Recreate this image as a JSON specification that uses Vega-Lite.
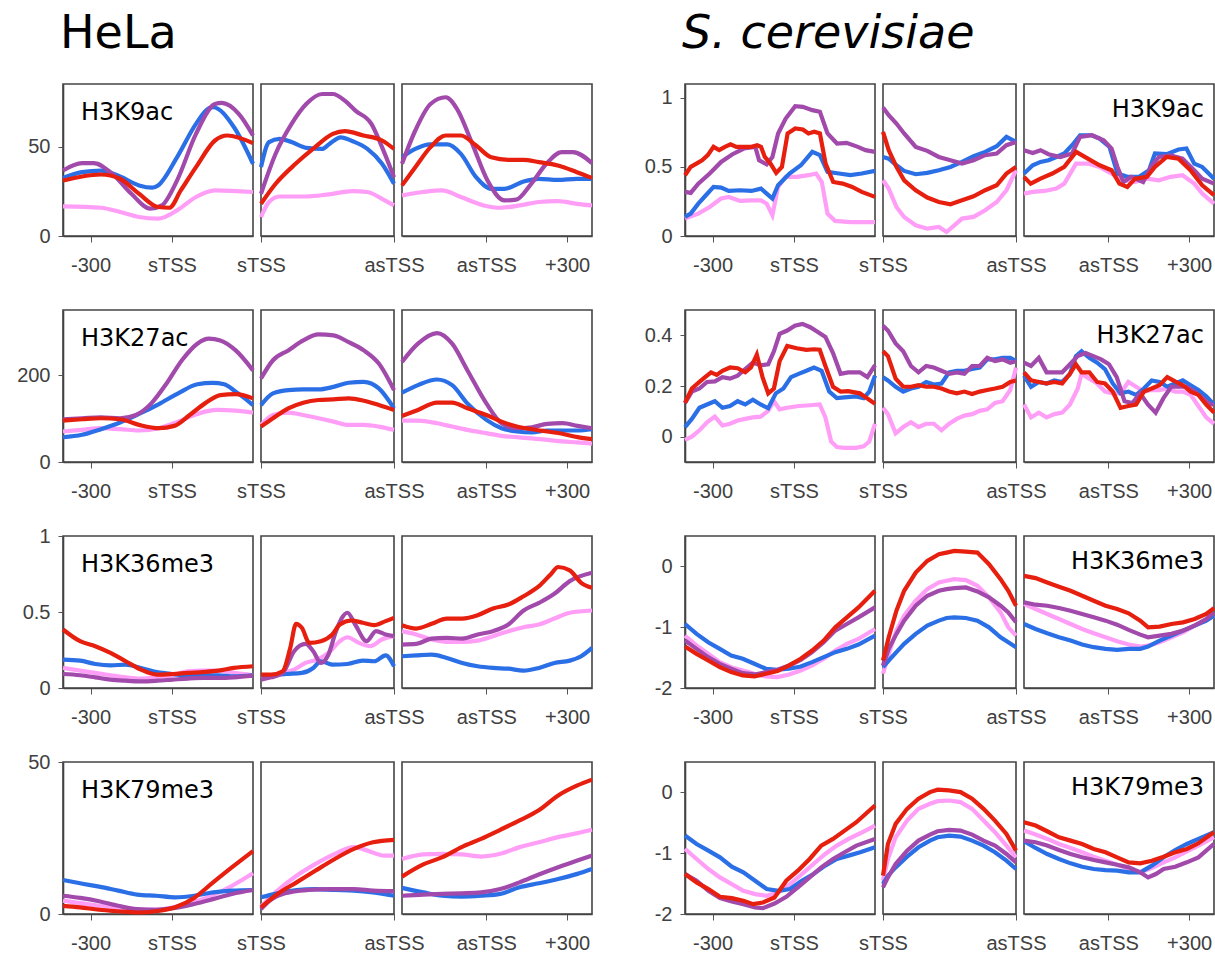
{
"$schema":"https://vega.github.io/schema/vega-lite/v6.json",
"background":"white",
"padding":{"left":15,"top":10,"right":2,"bottom":2},
"config":{
 "view":{"stroke":"#444","strokeWidth":1.6},
 "axis":{"grid":false,"labelFont":"Liberation Sans","labelFontSize":20,"labelColor":"#404040","tickColor":"#555","domainColor":"#444","domainWidth":1.6,"labelFlush":false,"labelOverlap":false,"labelBound":false},
 "axisX":{"tickSize":6,"labelPadding":13},
 "axisY":{"tickSize":5,"labelPadding":8,"labelExpr":"'' + datum.value"},
 "line":{"strokeWidth":4.2,"clip":true},
 "text":{"font":"DejaVu Sans","fontSize":24,"color":"black"},
 "title":{"anchor":"start","frame":"group","dx":-3,"font":"DejaVu Sans","fontSize":46,"fontWeight":"normal","color":"black","offset":26}
},
"datasets":{
"h1L":[
{"s":"k","x":0,"y":16.6},{"s":"k","x":20,"y":15.8},{"s":"k","x":30,"y":13.4},{"s":"k","x":40,"y":10.6},{"s":"k","x":50,"y":9.7},{"s":"k","x":60,"y":14.3},{"s":"k","x":70,"y":21.8},{"s":"k","x":80,"y":25.5},{"s":"k","x":100,"y":24.6},
{"s":"b","x":0,"y":32.5},{"s":"b","x":10,"y":35.7},{"s":"b","x":20,"y":36.6},{"s":"b","x":30,"y":33.3},{"s":"b","x":40,"y":28.3},{"s":"b","x":47,"y":27},{"s":"b","x":50,"y":28.3},{"s":"b","x":60,"y":44},{"s":"b","x":70,"y":62.7},{"s":"b","x":77,"y":71.6},{"s":"b","x":79,"y":72},{"s":"b","x":90,"y":60.8},{"s":"b","x":100,"y":40.4},
{"s":"p","x":0,"y":36.6},{"s":"p","x":10,"y":40.7},{"s":"p","x":16,"y":40.7},{"s":"p","x":26,"y":34.8},{"s":"p","x":36,"y":23.6},{"s":"p","x":46,"y":15.3},{"s":"p","x":52,"y":17.1},{"s":"p","x":60,"y":31},{"s":"p","x":70,"y":57.1},{"s":"p","x":80,"y":73.8},{"s":"p","x":83.5,"y":74.4},{"s":"p","x":92.5,"y":68.3},{"s":"p","x":100,"y":56.2},
{"s":"r","x":0,"y":31},{"s":"r","x":10,"y":33.3},{"s":"r","x":20,"y":34.4},{"s":"r","x":30,"y":32},{"s":"r","x":40,"y":23.6},{"s":"r","x":50,"y":16.2},{"s":"r","x":56,"y":15.8},{"s":"r","x":62,"y":25.5},{"s":"r","x":70,"y":38.5},{"s":"r","x":80,"y":53.4},{"s":"r","x":86.5,"y":56.2},{"s":"r","x":100,"y":51.9}],
"h1M":[
{"s":"k","x":0,"y":10.6},{"s":"k","x":6,"y":19},{"s":"k","x":14,"y":22.1},{"s":"k","x":34,"y":22.1},{"s":"k","x":51,"y":23.3},{"s":"k","x":69,"y":25.1},{"s":"k","x":80,"y":24.6},{"s":"k","x":91,"y":20.8},{"s":"k","x":100,"y":17.1},
{"s":"b","x":0,"y":38.5},{"s":"b","x":6,"y":52.5},{"s":"b","x":14,"y":54.3},{"s":"b","x":23,"y":52.5},{"s":"b","x":34,"y":49.3},{"s":"b","x":46,"y":48.7},{"s":"b","x":51,"y":51.2},{"s":"b","x":60,"y":55.2},{"s":"b","x":69,"y":53},{"s":"b","x":80,"y":48.7},{"s":"b","x":91,"y":40.4},{"s":"b","x":100,"y":29.2},
{"s":"p","x":0,"y":23.6},{"s":"p","x":11,"y":46},{"s":"p","x":23,"y":62.7},{"s":"p","x":34,"y":73.8},{"s":"p","x":46,"y":79.4},{"s":"p","x":54,"y":79.4},{"s":"p","x":63,"y":75.7},{"s":"p","x":71,"y":70.1},{"s":"p","x":83,"y":62.7},{"s":"p","x":91,"y":49.7},{"s":"p","x":100,"y":32.9},
{"s":"r","x":0,"y":18},{"s":"r","x":11,"y":29.2},{"s":"r","x":26,"y":40.4},{"s":"r","x":40,"y":49.3},{"s":"r","x":54,"y":57.1},{"s":"r","x":63,"y":58.6},{"s":"r","x":77,"y":56.2},{"s":"r","x":91,"y":53.4},{"s":"r","x":100,"y":48.7}],
"h1R":[
{"s":"k","x":0,"y":22.7},{"s":"k","x":11,"y":24.6},{"s":"k","x":21,"y":25.5},{"s":"k","x":31,"y":21.8},{"s":"k","x":43,"y":17.1},{"s":"k","x":52,"y":15.8},{"s":"k","x":62,"y":17.1},{"s":"k","x":72,"y":19},{"s":"k","x":82,"y":19.5},{"s":"k","x":92,"y":18},{"s":"k","x":100,"y":17.1},
{"s":"b","x":0,"y":44},{"s":"b","x":7,"y":48.7},{"s":"b","x":15,"y":51.2},{"s":"b","x":24,"y":51.2},{"s":"b","x":31,"y":45.9},{"s":"b","x":39,"y":32.9},{"s":"b","x":47,"y":26.4},{"s":"b","x":54,"y":26.4},{"s":"b","x":64,"y":30.5},{"s":"b","x":72,"y":32},{"s":"b","x":82,"y":31.4},{"s":"b","x":92,"y":32},{"s":"b","x":100,"y":32},
{"s":"p","x":0,"y":40.4},{"s":"p","x":7,"y":59},{"s":"p","x":15,"y":73.8},{"s":"p","x":23,"y":77.6},{"s":"p","x":29,"y":71},{"s":"p","x":37,"y":51.5},{"s":"p","x":45,"y":31},{"s":"p","x":54,"y":19.9},{"s":"p","x":60,"y":20.3},{"s":"p","x":68,"y":29.2},{"s":"p","x":76,"y":40.4},{"s":"p","x":84,"y":46.9},{"s":"p","x":90,"y":46.9},{"s":"p","x":100,"y":40.7},
{"s":"r","x":0,"y":28.3},{"s":"r","x":7,"y":38.5},{"s":"r","x":15,"y":49.7},{"s":"r","x":23,"y":56.2},{"s":"r","x":31,"y":56.2},{"s":"r","x":39,"y":50.6},{"s":"r","x":47,"y":44},{"s":"r","x":56,"y":42.6},{"s":"r","x":64,"y":42.6},{"s":"r","x":72,"y":41.3},{"s":"r","x":82,"y":39.4},{"s":"r","x":92,"y":35.7},{"s":"r","x":100,"y":32.5}],
"h2L":[
{"s":"k","x":0,"y":70.2},{"s":"k","x":10,"y":74},{"s":"k","x":20,"y":77.8},{"s":"k","x":30,"y":75.5},{"s":"k","x":40,"y":72.5},{"s":"k","x":50.5,"y":77.8},{"s":"k","x":60.6,"y":93},{"s":"k","x":70.7,"y":110.6},{"s":"k","x":80.8,"y":119.8},{"s":"k","x":90.9,"y":118.3},{"s":"k","x":100,"y":113.7},
{"s":"b","x":0,"y":57},{"s":"b","x":10,"y":62.6},{"s":"b","x":20,"y":75.5},{"s":"b","x":30,"y":90.8},{"s":"b","x":40,"y":110.6},{"s":"b","x":50.5,"y":133.5},{"s":"b","x":60.6,"y":158},{"s":"b","x":70.7,"y":179},{"s":"b","x":78.8,"y":182},{"s":"b","x":84.8,"y":179},{"s":"b","x":90.9,"y":162},{"s":"b","x":100,"y":131},
{"s":"p","x":0,"y":98.4},{"s":"p","x":10,"y":100.7},{"s":"p","x":20,"y":103},{"s":"p","x":30,"y":100.7},{"s":"p","x":38.4,"y":108.3},{"s":"p","x":46.5,"y":135},{"s":"p","x":54.5,"y":180.8},{"s":"p","x":62.6,"y":234.3},{"s":"p","x":70.7,"y":272.4},{"s":"p","x":76.8,"y":284},{"s":"p","x":82.8,"y":280},{"s":"p","x":90.9,"y":257},{"s":"p","x":100,"y":211},
{"s":"r","x":0,"y":95.4},{"s":"r","x":10,"y":98.4},{"s":"r","x":20,"y":100.7},{"s":"r","x":30,"y":98.4},{"s":"r","x":40,"y":85.5},{"s":"r","x":50.5,"y":77.8},{"s":"r","x":58.6,"y":83.2},{"s":"r","x":66.7,"y":108.3},{"s":"r","x":74.7,"y":135},{"s":"r","x":82.8,"y":154},{"s":"r","x":90.9,"y":156.4},{"s":"r","x":100,"y":146.5}],
"h2M":[
{"s":"k","x":0,"y":85.5},{"s":"k","x":9,"y":108.3},{"s":"k","x":20.5,"y":113.7},{"s":"k","x":31.8,"y":108.3},{"s":"k","x":43.2,"y":100.7},{"s":"k","x":54.5,"y":93},{"s":"k","x":65.9,"y":85.5},{"s":"k","x":77.3,"y":85.5},{"s":"k","x":88.6,"y":81.6},{"s":"k","x":100,"y":74},
{"s":"b","x":0,"y":131},{"s":"b","x":9,"y":158},{"s":"b","x":20.5,"y":165.6},{"s":"b","x":31.8,"y":167},{"s":"b","x":43.2,"y":167},{"s":"b","x":54.5,"y":173},{"s":"b","x":65.9,"y":182.4},{"s":"b","x":77.3,"y":184.7},{"s":"b","x":88.6,"y":169.5},{"s":"b","x":100,"y":123.6},
{"s":"p","x":0,"y":192.3},{"s":"p","x":9,"y":234.3},{"s":"p","x":20.5,"y":257},{"s":"p","x":31.8,"y":280},{"s":"p","x":43.2,"y":293.7},{"s":"p","x":54.5,"y":291.4},{"s":"p","x":65.9,"y":276},{"s":"p","x":77.3,"y":257},{"s":"p","x":88.6,"y":226.6},{"s":"p","x":100,"y":165.6},
{"s":"r","x":0,"y":81.6},{"s":"r","x":9,"y":100.7},{"s":"r","x":20.5,"y":123.6},{"s":"r","x":31.8,"y":136.6},{"s":"r","x":43.2,"y":142.7},{"s":"r","x":54.5,"y":144.2},{"s":"r","x":65.9,"y":146.5},{"s":"r","x":77.3,"y":141.2},{"s":"r","x":88.6,"y":131.2},{"s":"r","x":100,"y":119.8}],
"h2R":[
{"s":"k","x":0,"y":95.4},{"s":"k","x":8.4,"y":95.4},{"s":"k","x":18.4,"y":89.3},{"s":"k","x":26.4,"y":81.6},{"s":"k","x":34.4,"y":74},{"s":"k","x":44.4,"y":66.4},{"s":"k","x":52.4,"y":60.3},{"s":"k","x":60.4,"y":57.2},{"s":"k","x":68.4,"y":54.2},{"s":"k","x":76.4,"y":51.1},{"s":"k","x":84.4,"y":47.3},{"s":"k","x":92.4,"y":45},{"s":"k","x":100,"y":42},
{"s":"b","x":0,"y":159.5},{"s":"b","x":8.4,"y":177},{"s":"b","x":18.4,"y":190},{"s":"b","x":26.4,"y":177},{"s":"b","x":34.4,"y":135},{"s":"b","x":44.4,"y":97},{"s":"b","x":52.4,"y":77.8},{"s":"b","x":60.4,"y":70.2},{"s":"b","x":68.4,"y":68},{"s":"b","x":76.4,"y":72.5},{"s":"b","x":84.4,"y":72.5},{"s":"b","x":92.4,"y":72.5},{"s":"b","x":100,"y":75.5},
{"s":"p","x":0,"y":230.4},{"s":"p","x":8.4,"y":272.4},{"s":"p","x":18.4,"y":296.8},{"s":"p","x":26.4,"y":272.4},{"s":"p","x":34.4,"y":211.3},{"s":"p","x":44.4,"y":135},{"s":"p","x":52.4,"y":89.3},{"s":"p","x":60.4,"y":77.8},{"s":"p","x":68.4,"y":80.1},{"s":"p","x":76.4,"y":87.7},{"s":"p","x":84.4,"y":89.3},{"s":"p","x":92.4,"y":83.2},{"s":"p","x":100,"y":77.8},
{"s":"r","x":0,"y":106},{"s":"r","x":8.4,"y":119.8},{"s":"r","x":18.4,"y":136.6},{"s":"r","x":26.4,"y":136.6},{"s":"r","x":34.4,"y":123.6},{"s":"r","x":44.4,"y":108.3},{"s":"r","x":52.4,"y":93},{"s":"r","x":60.4,"y":81.6},{"s":"r","x":68.4,"y":75.5},{"s":"r","x":76.4,"y":70.2},{"s":"r","x":84.4,"y":65},{"s":"r","x":92.4,"y":57.2},{"s":"r","x":100,"y":52.7}],
"h3L":[
{"s":"k","x":0,"y":0.132},{"s":"k","x":9,"y":0.114},{"s":"k","x":17,"y":0.099},{"s":"k","x":25,"y":0.084},{"s":"k","x":33,"y":0.07},{"s":"k","x":41,"y":0.062},{"s":"k","x":49.5,"y":0.07},{"s":"k","x":57.6,"y":0.084},{"s":"k","x":65.7,"y":0.11},{"s":"k","x":73.7,"y":0.114},{"s":"k","x":81.8,"y":0.114},{"s":"k","x":89.9,"y":0.099},{"s":"k","x":100,"y":0.084},
{"s":"b","x":0,"y":0.187},{"s":"b","x":9,"y":0.18},{"s":"b","x":17,"y":0.158},{"s":"b","x":25,"y":0.149},{"s":"b","x":33,"y":0.154},{"s":"b","x":41,"y":0.132},{"s":"b","x":49.5,"y":0.105},{"s":"b","x":57.6,"y":0.092},{"s":"b","x":65.7,"y":0.084},{"s":"b","x":73.7,"y":0.084},{"s":"b","x":81.8,"y":0.084},{"s":"b","x":89.9,"y":0.077},{"s":"b","x":100,"y":0.084},
{"s":"p","x":0,"y":0.092},{"s":"p","x":9,"y":0.084},{"s":"p","x":17,"y":0.07},{"s":"p","x":25,"y":0.055},{"s":"p","x":33,"y":0.048},{"s":"p","x":41,"y":0.044},{"s":"p","x":49.5,"y":0.048},{"s":"p","x":57.6,"y":0.055},{"s":"p","x":65.7,"y":0.062},{"s":"p","x":73.7,"y":0.066},{"s":"p","x":81.8,"y":0.066},{"s":"p","x":89.9,"y":0.07},{"s":"p","x":100,"y":0.081},
{"s":"r","x":0,"y":0.385},{"s":"r","x":9,"y":0.308},{"s":"r","x":17,"y":0.275},{"s":"r","x":25,"y":0.231},{"s":"r","x":33,"y":0.176},{"s":"r","x":41,"y":0.121},{"s":"r","x":49.5,"y":0.088},{"s":"r","x":57.6,"y":0.092},{"s":"r","x":65.7,"y":0.099},{"s":"r","x":73.7,"y":0.105},{"s":"r","x":81.8,"y":0.114},{"s":"r","x":89.9,"y":0.132},{"s":"r","x":100,"y":0.143}],
"h3M":[
{"s":"k","x":0,"y":0.066},{"s":"k","x":7.7,"y":0.077},{"s":"k","x":16.3,"y":0.099},{"s":"k","x":24.9,"y":0.121},{"s":"k","x":33.5,"y":0.165},{"s":"k","x":42.1,"y":0.187},{"s":"k","x":50.7,"y":0.231},{"s":"k","x":59.3,"y":0.308},{"s":"k","x":65,"y":0.334},{"s":"k","x":73.6,"y":0.297},{"s":"k","x":82.2,"y":0.275},{"s":"k","x":90.8,"y":0.319},{"s":"k","x":100,"y":0.341},
{"s":"b","x":0,"y":0.084},{"s":"b","x":7.7,"y":0.084},{"s":"b","x":19.2,"y":0.092},{"s":"b","x":30.7,"y":0.099},{"s":"b","x":39.3,"y":0.132},{"s":"b","x":45,"y":0.176},{"s":"b","x":53.6,"y":0.154},{"s":"b","x":65,"y":0.158},{"s":"b","x":76.5,"y":0.18},{"s":"b","x":85.1,"y":0.176},{"s":"b","x":93.7,"y":0.215},{"s":"b","x":100,"y":0.143},
{"s":"p","x":0,"y":0.055},{"s":"p","x":7.7,"y":0.07},{"s":"p","x":16.3,"y":0.099},{"s":"p","x":24.9,"y":0.242},{"s":"p","x":33.5,"y":0.29},{"s":"p","x":39.3,"y":0.242},{"s":"p","x":45,"y":0.165},{"s":"p","x":50.7,"y":0.22},{"s":"p","x":56.4,"y":0.374},{"s":"p","x":65,"y":0.495},{"s":"p","x":70.8,"y":0.418},{"s":"p","x":79.4,"y":0.308},{"s":"p","x":86.5,"y":0.374},{"s":"p","x":93.7,"y":0.352},{"s":"p","x":100,"y":0.341},
{"s":"r","x":0,"y":0.088},{"s":"r","x":7.7,"y":0.088},{"s":"r","x":16.3,"y":0.11},{"s":"r","x":22,"y":0.264},{"s":"r","x":26.4,"y":0.422},{"s":"r","x":30.7,"y":0.396},{"s":"r","x":36.4,"y":0.297},{"s":"r","x":45,"y":0.308},{"s":"r","x":53.6,"y":0.352},{"s":"r","x":59.3,"y":0.418},{"s":"r","x":67.9,"y":0.444},{"s":"r","x":76.5,"y":0.429},{"s":"r","x":85.1,"y":0.413},{"s":"r","x":93.7,"y":0.44},{"s":"r","x":100,"y":0.462}],
"h3R":[
{"s":"k","x":0,"y":0.374},{"s":"k","x":7.5,"y":0.352},{"s":"k","x":15.6,"y":0.319},{"s":"k","x":23.6,"y":0.303},{"s":"k","x":31.7,"y":0.303},{"s":"k","x":39.8,"y":0.312},{"s":"k","x":47.9,"y":0.341},{"s":"k","x":56,"y":0.374},{"s":"k","x":64,"y":0.4},{"s":"k","x":72.1,"y":0.418},{"s":"k","x":80.2,"y":0.457},{"s":"k","x":88.3,"y":0.495},{"s":"k","x":100,"y":0.51},
{"s":"b","x":0,"y":0.209},{"s":"b","x":7.5,"y":0.215},{"s":"b","x":15.6,"y":0.22},{"s":"b","x":23.6,"y":0.198},{"s":"b","x":31.7,"y":0.165},{"s":"b","x":39.8,"y":0.143},{"s":"b","x":47.9,"y":0.132},{"s":"b","x":56,"y":0.127},{"s":"b","x":64,"y":0.114},{"s":"b","x":72.1,"y":0.132},{"s":"b","x":80.2,"y":0.165},{"s":"b","x":88.3,"y":0.18},{"s":"b","x":94.3,"y":0.209},{"s":"b","x":100,"y":0.264},
{"s":"p","x":0,"y":0.286},{"s":"p","x":7.5,"y":0.29},{"s":"p","x":15.6,"y":0.325},{"s":"p","x":23.6,"y":0.33},{"s":"p","x":31.7,"y":0.325},{"s":"p","x":39.8,"y":0.352},{"s":"p","x":47.9,"y":0.374},{"s":"p","x":56,"y":0.418},{"s":"p","x":64,"y":0.51},{"s":"p","x":72.1,"y":0.56},{"s":"p","x":80.2,"y":0.62},{"s":"p","x":88.3,"y":0.703},{"s":"p","x":100,"y":0.758},
{"s":"r","x":0,"y":0.413},{"s":"r","x":7.5,"y":0.391},{"s":"r","x":15.6,"y":0.422},{"s":"r","x":23.6,"y":0.457},{"s":"r","x":31.7,"y":0.457},{"s":"r","x":39.8,"y":0.479},{"s":"r","x":47.9,"y":0.523},{"s":"r","x":56,"y":0.549},{"s":"r","x":64,"y":0.604},{"s":"r","x":72.1,"y":0.67},{"s":"r","x":78.2,"y":0.747},{"s":"r","x":82.2,"y":0.796},{"s":"r","x":88.3,"y":0.774},{"s":"r","x":94.3,"y":0.692},{"s":"r","x":100,"y":0.659}],
"h4L":[
{"s":"k","x":0,"y":4.4},{"s":"k","x":19,"y":2.7},{"s":"k","x":39,"y":1.4},{"s":"k","x":53,"y":1.6},{"s":"k","x":65,"y":3.3},{"s":"k","x":77,"y":5.7},{"s":"k","x":89,"y":9.3},{"s":"k","x":100,"y":13.4},
{"s":"b","x":0,"y":11.2},{"s":"b","x":9,"y":10.1},{"s":"b","x":19,"y":9},{"s":"b","x":29,"y":7.7},{"s":"b","x":39,"y":6.4},{"s":"b","x":49,"y":6},{"s":"b","x":59,"y":5.5},{"s":"b","x":69,"y":6},{"s":"b","x":79,"y":7.1},{"s":"b","x":89,"y":7.7},{"s":"b","x":100,"y":7.9},
{"s":"p","x":0,"y":6},{"s":"p","x":9,"y":5.3},{"s":"p","x":19,"y":4.2},{"s":"p","x":29,"y":2.7},{"s":"p","x":39,"y":1.6},{"s":"p","x":49,"y":1.4},{"s":"p","x":59,"y":2},{"s":"p","x":69,"y":3.3},{"s":"p","x":79,"y":4.9},{"s":"p","x":89,"y":6.6},{"s":"p","x":100,"y":7.9},
{"s":"r","x":0,"y":2.7},{"s":"r","x":9,"y":2.2},{"s":"r","x":19,"y":1.4},{"s":"r","x":29,"y":0.9},{"s":"r","x":39,"y":0.5},{"s":"r","x":49,"y":0.9},{"s":"r","x":59,"y":2.2},{"s":"r","x":69,"y":5.3},{"s":"r","x":79,"y":10.4},{"s":"r","x":89,"y":15.4},{"s":"r","x":100,"y":20.7}],
"h4M":[
{"s":"k","x":0,"y":2.4},{"s":"k","x":12.4,"y":7.7},{"s":"k","x":26.7,"y":12.6},{"s":"k","x":41.1,"y":16.5},{"s":"k","x":55.5,"y":19.8},{"s":"k","x":69.8,"y":22},{"s":"k","x":78.4,"y":21.1},{"s":"k","x":92.8,"y":19.2},{"s":"k","x":100,"y":19.2},
{"s":"b","x":0,"y":5.5},{"s":"b","x":12.4,"y":6.8},{"s":"b","x":26.7,"y":7.9},{"s":"b","x":41.1,"y":8.2},{"s":"b","x":55.5,"y":7.9},{"s":"b","x":69.8,"y":7.7},{"s":"b","x":84.2,"y":7.1},{"s":"b","x":100,"y":6},
{"s":"p","x":0,"y":1.6},{"s":"p","x":6.6,"y":4.4},{"s":"p","x":18.1,"y":6.8},{"s":"p","x":35.3,"y":7.9},{"s":"p","x":52.6,"y":8.2},{"s":"p","x":69.8,"y":8.2},{"s":"p","x":84.2,"y":7.7},{"s":"p","x":100,"y":7.5},
{"s":"r","x":0,"y":2.2},{"s":"r","x":12.4,"y":6.6},{"s":"r","x":26.7,"y":10.4},{"s":"r","x":41.1,"y":14.3},{"s":"r","x":55.5,"y":18.1},{"s":"r","x":69.8,"y":21.4},{"s":"r","x":84.2,"y":23.6},{"s":"r","x":100,"y":24.4}],
"h4R":[
{"s":"k","x":0,"y":18.1},{"s":"k","x":11.2,"y":19.6},{"s":"k","x":21.3,"y":19.8},{"s":"k","x":31.4,"y":19.6},{"s":"k","x":41.6,"y":18.9},{"s":"k","x":51.7,"y":19.8},{"s":"k","x":61.9,"y":22},{"s":"k","x":72,"y":23.6},{"s":"k","x":82.2,"y":25.3},{"s":"k","x":92.3,"y":26.6},{"s":"k","x":100,"y":27.7},
{"s":"b","x":0,"y":8.6},{"s":"b","x":11.2,"y":7.1},{"s":"b","x":21.3,"y":6},{"s":"b","x":31.4,"y":5.7},{"s":"b","x":41.6,"y":6},{"s":"b","x":51.7,"y":6.6},{"s":"b","x":61.9,"y":8.8},{"s":"b","x":72,"y":10.1},{"s":"b","x":82.2,"y":11.5},{"s":"b","x":92.3,"y":13.2},{"s":"b","x":100,"y":14.8},
{"s":"p","x":0,"y":6},{"s":"p","x":11.2,"y":6.4},{"s":"p","x":21.3,"y":6.6},{"s":"p","x":31.4,"y":6.8},{"s":"p","x":41.6,"y":7.1},{"s":"p","x":51.7,"y":8.2},{"s":"p","x":61.9,"y":10.4},{"s":"p","x":72,"y":13},{"s":"p","x":82.2,"y":15.4},{"s":"p","x":92.3,"y":17.6},{"s":"p","x":100,"y":19.2},
{"s":"r","x":0,"y":12.3},{"s":"r","x":11.2,"y":16.3},{"s":"r","x":21.3,"y":18.7},{"s":"r","x":31.4,"y":22},{"s":"r","x":41.6,"y":24.7},{"s":"r","x":51.7,"y":27.7},{"s":"r","x":61.9,"y":30.8},{"s":"r","x":72,"y":34.1},{"s":"r","x":82.2,"y":39},{"s":"r","x":92.3,"y":42.3},{"s":"r","x":100,"y":44.2}],
"y1L":[
{"s":"k","x":0,"y":0.126},{"s":"k","x":7,"y":0.162},{"s":"k","x":13,"y":0.21},{"s":"k","x":19,"y":0.271},{"s":"k","x":23,"y":0.283},{"s":"k","x":29,"y":0.254},{"s":"k","x":35,"y":0.258},{"s":"k","x":40,"y":0.258},{"s":"k","x":43,"y":0.234},{"s":"k","x":46,"y":0.15},{"s":"k","x":49,"y":0.355},{"s":"k","x":53,"y":0.428},{"s":"k","x":59,"y":0.428},{"s":"k","x":65,"y":0.44},{"s":"k","x":69,"y":0.452},{"s":"k","x":72,"y":0.391},{"s":"k","x":75,"y":0.162},{"s":"k","x":79,"y":0.109},{"s":"k","x":87,"y":0.101},{"s":"k","x":100,"y":0.101},
{"s":"b","x":0,"y":0.138},{"s":"b","x":3,"y":0.162},{"s":"b","x":7,"y":0.234},{"s":"b","x":11,"y":0.295},{"s":"b","x":15,"y":0.355},{"s":"b","x":19,"y":0.35},{"s":"b","x":23,"y":0.326},{"s":"b","x":29,"y":0.331},{"s":"b","x":35,"y":0.326},{"s":"b","x":40,"y":0.343},{"s":"b","x":43,"y":0.307},{"s":"b","x":46,"y":0.271},{"s":"b","x":49,"y":0.367},{"s":"b","x":55,"y":0.452},{"s":"b","x":61,"y":0.512},{"s":"b","x":67,"y":0.609},{"s":"b","x":71,"y":0.585},{"s":"b","x":75,"y":0.464},{"s":"b","x":81,"y":0.452},{"s":"b","x":87,"y":0.44},{"s":"b","x":93,"y":0.452},{"s":"b","x":100,"y":0.471},
{"s":"p","x":0,"y":0.319},{"s":"p","x":3,"y":0.312},{"s":"p","x":7,"y":0.379},{"s":"p","x":13,"y":0.452},{"s":"p","x":19,"y":0.536},{"s":"p","x":25,"y":0.592},{"s":"p","x":31,"y":0.633},{"s":"p","x":37,"y":0.645},{"s":"p","x":39,"y":0.548},{"s":"p","x":43,"y":0.519},{"s":"p","x":46,"y":0.572},{"s":"p","x":49,"y":0.742},{"s":"p","x":53,"y":0.85},{"s":"p","x":58,"y":0.94},{"s":"p","x":62,"y":0.935},{"s":"p","x":67,"y":0.911},{"s":"p","x":71,"y":0.899},{"s":"p","x":75,"y":0.742},{"s":"p","x":80,"y":0.669},{"s":"p","x":85,"y":0.674},{"s":"p","x":91,"y":0.645},{"s":"p","x":95,"y":0.621},{"s":"p","x":100,"y":0.609},
{"s":"r","x":0,"y":0.44},{"s":"r","x":3,"y":0.5},{"s":"r","x":6,"y":0.524},{"s":"r","x":9,"y":0.548},{"s":"r","x":12,"y":0.585},{"s":"r","x":15,"y":0.645},{"s":"r","x":18,"y":0.621},{"s":"r","x":21,"y":0.645},{"s":"r","x":24,"y":0.664},{"s":"r","x":27,"y":0.645},{"s":"r","x":31,"y":0.645},{"s":"r","x":35,"y":0.645},{"s":"r","x":38,"y":0.657},{"s":"r","x":40,"y":0.645},{"s":"r","x":42,"y":0.572},{"s":"r","x":45,"y":0.524},{"s":"r","x":48,"y":0.457},{"s":"r","x":51,"y":0.5},{"s":"r","x":54,"y":0.742},{"s":"r","x":58,"y":0.778},{"s":"r","x":62,"y":0.771},{"s":"r","x":65,"y":0.742},{"s":"r","x":68,"y":0.754},{"s":"r","x":71,"y":0.742},{"s":"r","x":74,"y":0.524},{"s":"r","x":78,"y":0.391},{"s":"r","x":83,"y":0.379},{"s":"r","x":88,"y":0.355},{"s":"r","x":93,"y":0.319},{"s":"r","x":100,"y":0.283}],
"y1M":[
{"s":"k","x":0,"y":0.403},{"s":"k","x":4.3,"y":0.343},{"s":"k","x":10.1,"y":0.21},{"s":"k","x":15.9,"y":0.138},{"s":"k","x":24.6,"y":0.077},{"s":"k","x":33.3,"y":0.053},{"s":"k","x":42,"y":0.065},{"s":"k","x":47.8,"y":0.029},{"s":"k","x":53.6,"y":0.077},{"s":"k","x":59.4,"y":0.126},{"s":"k","x":68.1,"y":0.138},{"s":"k","x":76.8,"y":0.186},{"s":"k","x":85.5,"y":0.246},{"s":"k","x":92.8,"y":0.331},{"s":"k","x":100,"y":0.476},
{"s":"b","x":0,"y":0.572},{"s":"b","x":4.3,"y":0.56},{"s":"b","x":10.1,"y":0.512},{"s":"b","x":15.9,"y":0.471},{"s":"b","x":24.6,"y":0.447},{"s":"b","x":33.3,"y":0.457},{"s":"b","x":42,"y":0.476},{"s":"b","x":50.7,"y":0.5},{"s":"b","x":59.4,"y":0.536},{"s":"b","x":68.1,"y":0.577},{"s":"b","x":76.8,"y":0.609},{"s":"b","x":85.5,"y":0.65},{"s":"b","x":92.8,"y":0.717},{"s":"b","x":100,"y":0.681},
{"s":"p","x":0,"y":0.93},{"s":"p","x":4.3,"y":0.874},{"s":"p","x":10.1,"y":0.814},{"s":"p","x":15.9,"y":0.742},{"s":"p","x":24.6,"y":0.645},{"s":"p","x":33.3,"y":0.616},{"s":"p","x":42,"y":0.572},{"s":"p","x":50.7,"y":0.548},{"s":"p","x":59.4,"y":0.524},{"s":"p","x":68.1,"y":0.548},{"s":"p","x":76.8,"y":0.585},{"s":"p","x":85.5,"y":0.597},{"s":"p","x":92.8,"y":0.657},{"s":"p","x":100,"y":0.681},
{"s":"r","x":0,"y":0.754},{"s":"r","x":4.3,"y":0.621},{"s":"r","x":10.1,"y":0.5},{"s":"r","x":15.9,"y":0.403},{"s":"r","x":24.6,"y":0.331},{"s":"r","x":33.3,"y":0.278},{"s":"r","x":42,"y":0.246},{"s":"r","x":50.7,"y":0.229},{"s":"r","x":59.4,"y":0.258},{"s":"r","x":68.1,"y":0.287},{"s":"r","x":76.8,"y":0.331},{"s":"r","x":85.5,"y":0.367},{"s":"r","x":92.8,"y":0.452},{"s":"r","x":100,"y":0.5}],
"y1R":[
{"s":"k","x":0,"y":0.307},{"s":"k","x":4.6,"y":0.319},{"s":"k","x":10.8,"y":0.326},{"s":"k","x":17,"y":0.343},{"s":"k","x":21.2,"y":0.379},{"s":"k","x":27.4,"y":0.524},{"s":"k","x":33.6,"y":0.524},{"s":"k","x":39.8,"y":0.5},{"s":"k","x":46.1,"y":0.452},{"s":"k","x":52.3,"y":0.403},{"s":"k","x":58.5,"y":0.391},{"s":"k","x":64.7,"y":0.415},{"s":"k","x":71,"y":0.403},{"s":"k","x":77.2,"y":0.428},{"s":"k","x":83.4,"y":0.44},{"s":"k","x":89.6,"y":0.379},{"s":"k","x":93.8,"y":0.307},{"s":"k","x":100,"y":0.234},
{"s":"b","x":0,"y":0.452},{"s":"b","x":4.6,"y":0.512},{"s":"b","x":8.7,"y":0.536},{"s":"b","x":12.9,"y":0.548},{"s":"b","x":17,"y":0.572},{"s":"b","x":21.2,"y":0.597},{"s":"b","x":25.3,"y":0.657},{"s":"b","x":29.5,"y":0.729},{"s":"b","x":35.7,"y":0.729},{"s":"b","x":39.8,"y":0.705},{"s":"b","x":45,"y":0.645},{"s":"b","x":49.2,"y":0.452},{"s":"b","x":54.4,"y":0.428},{"s":"b","x":60.6,"y":0.428},{"s":"b","x":65.8,"y":0.476},{"s":"b","x":68.9,"y":0.597},{"s":"b","x":75.1,"y":0.592},{"s":"b","x":81.3,"y":0.626},{"s":"b","x":85.5,"y":0.633},{"s":"b","x":89.6,"y":0.524},{"s":"b","x":93.8,"y":0.5},{"s":"b","x":100,"y":0.415},
{"s":"p","x":0,"y":0.621},{"s":"p","x":4.6,"y":0.601},{"s":"p","x":8.7,"y":0.621},{"s":"p","x":12.9,"y":0.592},{"s":"p","x":19.1,"y":0.572},{"s":"p","x":25.3,"y":0.597},{"s":"p","x":29.5,"y":0.717},{"s":"p","x":35.7,"y":0.729},{"s":"p","x":41.9,"y":0.693},{"s":"p","x":46.1,"y":0.633},{"s":"p","x":49.2,"y":0.5},{"s":"p","x":52.3,"y":0.391},{"s":"p","x":56.4,"y":0.428},{"s":"p","x":62.7,"y":0.391},{"s":"p","x":66.8,"y":0.5},{"s":"p","x":71,"y":0.572},{"s":"p","x":77.2,"y":0.584},{"s":"p","x":83.4,"y":0.56},{"s":"p","x":89.6,"y":0.476},{"s":"p","x":93.8,"y":0.415},{"s":"p","x":100,"y":0.379},
{"s":"r","x":0,"y":0.428},{"s":"r","x":3.5,"y":0.379},{"s":"r","x":8.7,"y":0.415},{"s":"r","x":14.9,"y":0.452},{"s":"r","x":21.2,"y":0.5},{"s":"r","x":27.4,"y":0.609},{"s":"r","x":33.6,"y":0.56},{"s":"r","x":39.8,"y":0.512},{"s":"r","x":46.1,"y":0.476},{"s":"r","x":50.2,"y":0.379},{"s":"r","x":54.4,"y":0.355},{"s":"r","x":58.5,"y":0.415},{"s":"r","x":64.7,"y":0.428},{"s":"r","x":68.9,"y":0.5},{"s":"r","x":75.1,"y":0.572},{"s":"r","x":81.3,"y":0.56},{"s":"r","x":87.6,"y":0.476},{"s":"r","x":93.8,"y":0.367},{"s":"r","x":100,"y":0.295}],
"y2L":[
{"s":"k","x":0,"y":-0.013},{"s":"k","x":3.6,"y":0},{"s":"k","x":7.6,"y":0.025},{"s":"k","x":11.6,"y":0.057},{"s":"k","x":15.7,"y":0.079},{"s":"k","x":19.7,"y":0.044},{"s":"k","x":23.7,"y":0.051},{"s":"k","x":27.7,"y":0.064},{"s":"k","x":31.7,"y":0.07},{"s":"k","x":35.7,"y":0.076},{"s":"k","x":39.8,"y":0.079},{"s":"k","x":43.8,"y":0.102},{"s":"k","x":46.8,"y":0.14},{"s":"k","x":49.8,"y":0.108},{"s":"k","x":53.8,"y":0.114},{"s":"k","x":59.8,"y":0.121},{"s":"k","x":65.9,"y":0.124},{"s":"k","x":70.9,"y":0.127},{"s":"k","x":73.9,"y":0.076},{"s":"k","x":76.9,"y":-0.019},{"s":"k","x":79.9,"y":-0.041},{"s":"k","x":83.9,"y":-0.044},{"s":"k","x":90,"y":-0.044},{"s":"k","x":94,"y":-0.038},{"s":"k","x":97,"y":-0.019},{"s":"k","x":100,"y":0.051},
{"s":"b","x":0,"y":0.038},{"s":"b","x":3.6,"y":0.07},{"s":"b","x":7.6,"y":0.114},{"s":"b","x":11.6,"y":0.127},{"s":"b","x":15.7,"y":0.14},{"s":"b","x":19.7,"y":0.114},{"s":"b","x":23.7,"y":0.121},{"s":"b","x":27.7,"y":0.14},{"s":"b","x":31.7,"y":0.127},{"s":"b","x":35.7,"y":0.146},{"s":"b","x":39.8,"y":0.127},{"s":"b","x":43.8,"y":0.112},{"s":"b","x":47.8,"y":0.171},{"s":"b","x":51.8,"y":0.19},{"s":"b","x":55.8,"y":0.235},{"s":"b","x":59.8,"y":0.248},{"s":"b","x":63.9,"y":0.26},{"s":"b","x":67.9,"y":0.273},{"s":"b","x":71.9,"y":0.26},{"s":"b","x":75.9,"y":0.178},{"s":"b","x":79.9,"y":0.152},{"s":"b","x":83.9,"y":0.155},{"s":"b","x":90,"y":0.159},{"s":"b","x":94,"y":0.152},{"s":"b","x":97,"y":0.178},{"s":"b","x":100,"y":0.241},
{"s":"p","x":0,"y":0.133},{"s":"p","x":3.6,"y":0.178},{"s":"p","x":7.6,"y":0.19},{"s":"p","x":11.6,"y":0.216},{"s":"p","x":15.7,"y":0.218},{"s":"p","x":19.7,"y":0.235},{"s":"p","x":23.7,"y":0.229},{"s":"p","x":27.7,"y":0.241},{"s":"p","x":31.7,"y":0.267},{"s":"p","x":35.7,"y":0.292},{"s":"p","x":39.8,"y":0.282},{"s":"p","x":43.8,"y":0.286},{"s":"p","x":46.8,"y":0.337},{"s":"p","x":49.8,"y":0.406},{"s":"p","x":53.8,"y":0.419},{"s":"p","x":57.8,"y":0.438},{"s":"p","x":61.8,"y":0.445},{"s":"p","x":65.9,"y":0.432},{"s":"p","x":69.9,"y":0.413},{"s":"p","x":73.9,"y":0.394},{"s":"p","x":77.9,"y":0.33},{"s":"p","x":81.9,"y":0.248},{"s":"p","x":85.9,"y":0.254},{"s":"p","x":92,"y":0.254},{"s":"p","x":96,"y":0.235},{"s":"p","x":100,"y":0.282},
{"s":"r","x":0,"y":0.133},{"s":"r","x":3.6,"y":0.19},{"s":"r","x":7.6,"y":0.216},{"s":"r","x":10.6,"y":0.235},{"s":"r","x":13.7,"y":0.254},{"s":"r","x":16.7,"y":0.244},{"s":"r","x":19.7,"y":0.26},{"s":"r","x":23.7,"y":0.273},{"s":"r","x":27.7,"y":0.27},{"s":"r","x":31.7,"y":0.254},{"s":"r","x":34.7,"y":0.273},{"s":"r","x":37.8,"y":0.324},{"s":"r","x":40.8,"y":0.235},{"s":"r","x":43.8,"y":0.171},{"s":"r","x":46.8,"y":0.19},{"s":"r","x":49.8,"y":0.298},{"s":"r","x":53.8,"y":0.358},{"s":"r","x":58.8,"y":0.349},{"s":"r","x":63.9,"y":0.343},{"s":"r","x":67.9,"y":0.345},{"s":"r","x":70.9,"y":0.343},{"s":"r","x":73.9,"y":0.279},{"s":"r","x":77.9,"y":0.197},{"s":"r","x":81.9,"y":0.178},{"s":"r","x":85.9,"y":0.18},{"s":"r","x":92,"y":0.171},{"s":"r","x":100,"y":0.13}],
"y2M":[
{"s":"k","x":0,"y":0.114},{"s":"k","x":3.7,"y":0.089},{"s":"k","x":9.5,"y":0.013},{"s":"k","x":15.2,"y":0.038},{"s":"k","x":21,"y":0.057},{"s":"k","x":26.7,"y":0.038},{"s":"k","x":32.5,"y":0.051},{"s":"k","x":38.2,"y":0.051},{"s":"k","x":44,"y":0.025},{"s":"k","x":49.7,"y":0.051},{"s":"k","x":55.5,"y":0.07},{"s":"k","x":61.2,"y":0.083},{"s":"k","x":67,"y":0.089},{"s":"k","x":72.7,"y":0.102},{"s":"k","x":78.4,"y":0.108},{"s":"k","x":84.2,"y":0.133},{"s":"k","x":89.9,"y":0.14},{"s":"k","x":95.7,"y":0.184},{"s":"k","x":100,"y":0.273},
{"s":"b","x":0,"y":0.235},{"s":"b","x":3.7,"y":0.222},{"s":"b","x":9.5,"y":0.197},{"s":"b","x":15.2,"y":0.178},{"s":"b","x":21,"y":0.19},{"s":"b","x":26.7,"y":0.197},{"s":"b","x":32.5,"y":0.216},{"s":"b","x":38.2,"y":0.206},{"s":"b","x":44,"y":0.21},{"s":"b","x":49.7,"y":0.254},{"s":"b","x":55.5,"y":0.26},{"s":"b","x":61.2,"y":0.26},{"s":"b","x":67,"y":0.267},{"s":"b","x":72.7,"y":0.273},{"s":"b","x":78.4,"y":0.305},{"s":"b","x":84.2,"y":0.305},{"s":"b","x":89.9,"y":0.311},{"s":"b","x":95.7,"y":0.311},{"s":"b","x":100,"y":0.298},
{"s":"p","x":0,"y":0.438},{"s":"p","x":3.7,"y":0.419},{"s":"p","x":9.5,"y":0.368},{"s":"p","x":15.2,"y":0.337},{"s":"p","x":21,"y":0.279},{"s":"p","x":26.7,"y":0.254},{"s":"p","x":32.5,"y":0.279},{"s":"p","x":38.2,"y":0.273},{"s":"p","x":44,"y":0.26},{"s":"p","x":49.7,"y":0.248},{"s":"p","x":55.5,"y":0.254},{"s":"p","x":61.2,"y":0.248},{"s":"p","x":67,"y":0.279},{"s":"p","x":72.7,"y":0.279},{"s":"p","x":78.4,"y":0.311},{"s":"p","x":84.2,"y":0.298},{"s":"p","x":89.9,"y":0.305},{"s":"p","x":95.7,"y":0.292},{"s":"p","x":100,"y":0.298},
{"s":"r","x":0,"y":0.337},{"s":"r","x":3.7,"y":0.318},{"s":"r","x":9.5,"y":0.229},{"s":"r","x":15.2,"y":0.197},{"s":"r","x":21,"y":0.197},{"s":"r","x":26.7,"y":0.203},{"s":"r","x":32.5,"y":0.197},{"s":"r","x":38.2,"y":0.197},{"s":"r","x":44,"y":0.19},{"s":"r","x":49.7,"y":0.178},{"s":"r","x":55.5,"y":0.171},{"s":"r","x":61.2,"y":0.178},{"s":"r","x":67,"y":0.168},{"s":"r","x":72.7,"y":0.178},{"s":"r","x":78.4,"y":0.184},{"s":"r","x":84.2,"y":0.19},{"s":"r","x":89.9,"y":0.197},{"s":"r","x":95.7,"y":0.216},{"s":"r","x":100,"y":0.222}],
"y2R":[
{"s":"k","x":0,"y":0.127},{"s":"k","x":3.7,"y":0.076},{"s":"k","x":7.8,"y":0.095},{"s":"k","x":11.9,"y":0.076},{"s":"k","x":16,"y":0.089},{"s":"k","x":20.1,"y":0.095},{"s":"k","x":24.2,"y":0.127},{"s":"k","x":28.3,"y":0.19},{"s":"k","x":30.3,"y":0.248},{"s":"k","x":34.4,"y":0.229},{"s":"k","x":38.5,"y":0.21},{"s":"k","x":42.6,"y":0.178},{"s":"k","x":46.7,"y":0.171},{"s":"k","x":50.8,"y":0.171},{"s":"k","x":54.9,"y":0.216},{"s":"k","x":59,"y":0.197},{"s":"k","x":63.1,"y":0.178},{"s":"k","x":67.2,"y":0.184},{"s":"k","x":71.3,"y":0.184},{"s":"k","x":75.4,"y":0.19},{"s":"k","x":79.5,"y":0.178},{"s":"k","x":83.6,"y":0.178},{"s":"k","x":87.7,"y":0.165},{"s":"k","x":91.8,"y":0.121},{"s":"k","x":95.9,"y":0.076},{"s":"k","x":100,"y":0.051},
{"s":"b","x":0,"y":0.241},{"s":"b","x":3.7,"y":0.197},{"s":"b","x":7.8,"y":0.216},{"s":"b","x":11.9,"y":0.21},{"s":"b","x":16,"y":0.222},{"s":"b","x":20.1,"y":0.216},{"s":"b","x":24.2,"y":0.248},{"s":"b","x":27.3,"y":0.318},{"s":"b","x":30.3,"y":0.337},{"s":"b","x":34.4,"y":0.311},{"s":"b","x":38.5,"y":0.292},{"s":"b","x":42.6,"y":0.267},{"s":"b","x":46.7,"y":0.21},{"s":"b","x":50.8,"y":0.171},{"s":"b","x":54.9,"y":0.178},{"s":"b","x":59,"y":0.165},{"s":"b","x":63.1,"y":0.19},{"s":"b","x":67.2,"y":0.222},{"s":"b","x":71.3,"y":0.216},{"s":"b","x":75.4,"y":0.197},{"s":"b","x":79.5,"y":0.21},{"s":"b","x":83.6,"y":0.222},{"s":"b","x":87.7,"y":0.203},{"s":"b","x":91.8,"y":0.184},{"s":"b","x":95.9,"y":0.159},{"s":"b","x":100,"y":0.127},
{"s":"p","x":0,"y":0.292},{"s":"p","x":3.7,"y":0.279},{"s":"p","x":7.8,"y":0.311},{"s":"p","x":11.9,"y":0.254},{"s":"p","x":16,"y":0.254},{"s":"p","x":20.1,"y":0.254},{"s":"p","x":24.2,"y":0.286},{"s":"p","x":28.3,"y":0.318},{"s":"p","x":32.4,"y":0.33},{"s":"p","x":36.5,"y":0.318},{"s":"p","x":40.6,"y":0.305},{"s":"p","x":44.7,"y":0.286},{"s":"p","x":48.8,"y":0.235},{"s":"p","x":52.9,"y":0.14},{"s":"p","x":57,"y":0.133},{"s":"p","x":61.1,"y":0.171},{"s":"p","x":65.2,"y":0.127},{"s":"p","x":69.3,"y":0.095},{"s":"p","x":73.4,"y":0.152},{"s":"p","x":77.5,"y":0.197},{"s":"p","x":81.6,"y":0.197},{"s":"p","x":85.7,"y":0.197},{"s":"p","x":89.8,"y":0.178},{"s":"p","x":93.9,"y":0.152},{"s":"p","x":98,"y":0.127},{"s":"p","x":100,"y":0.127},
{"s":"r","x":0,"y":0.254},{"s":"r","x":3.7,"y":0.222},{"s":"r","x":7.8,"y":0.216},{"s":"r","x":11.9,"y":0.21},{"s":"r","x":16,"y":0.216},{"s":"r","x":20.1,"y":0.21},{"s":"r","x":24.2,"y":0.248},{"s":"r","x":27.3,"y":0.286},{"s":"r","x":30.3,"y":0.254},{"s":"r","x":34.4,"y":0.254},{"s":"r","x":38.5,"y":0.216},{"s":"r","x":42.6,"y":0.21},{"s":"r","x":46.7,"y":0.178},{"s":"r","x":50.8,"y":0.114},{"s":"r","x":54.9,"y":0.121},{"s":"r","x":59,"y":0.127},{"s":"r","x":63.1,"y":0.178},{"s":"r","x":67.2,"y":0.19},{"s":"r","x":71.3,"y":0.203},{"s":"r","x":75.4,"y":0.235},{"s":"r","x":79.5,"y":0.218},{"s":"r","x":83.6,"y":0.203},{"s":"r","x":87.7,"y":0.178},{"s":"r","x":91.8,"y":0.165},{"s":"r","x":95.9,"y":0.127},{"s":"r","x":100,"y":0.095}],
"y3L":[
{"s":"k","x":0,"y":-1.138},{"s":"k","x":6.1,"y":-1.302},{"s":"k","x":12.2,"y":-1.438},{"s":"k","x":18.3,"y":-1.575},{"s":"k","x":24.3,"y":-1.657},{"s":"k","x":30.4,"y":-1.711},{"s":"k","x":36.5,"y":-1.766},{"s":"k","x":42.6,"y":-1.81},{"s":"k","x":48.7,"y":-1.821},{"s":"k","x":54.8,"y":-1.777},{"s":"k","x":60.9,"y":-1.711},{"s":"k","x":66.9,"y":-1.629},{"s":"k","x":73,"y":-1.52},{"s":"k","x":79.1,"y":-1.384},{"s":"k","x":85.2,"y":-1.274},{"s":"k","x":91.3,"y":-1.193},{"s":"k","x":100,"y":-1.029},
{"s":"b","x":0,"y":-0.947},{"s":"b","x":6.1,"y":-1.11},{"s":"b","x":12.2,"y":-1.247},{"s":"b","x":18.3,"y":-1.356},{"s":"b","x":24.3,"y":-1.466},{"s":"b","x":30.4,"y":-1.52},{"s":"b","x":36.5,"y":-1.602},{"s":"b","x":42.6,"y":-1.684},{"s":"b","x":48.7,"y":-1.7},{"s":"b","x":54.8,"y":-1.684},{"s":"b","x":60.9,"y":-1.646},{"s":"b","x":66.9,"y":-1.575},{"s":"b","x":73,"y":-1.493},{"s":"b","x":79.1,"y":-1.411},{"s":"b","x":85.2,"y":-1.356},{"s":"b","x":91.3,"y":-1.285},{"s":"b","x":100,"y":-1.138},
{"s":"p","x":0,"y":-1.22},{"s":"p","x":6.1,"y":-1.356},{"s":"p","x":12.2,"y":-1.493},{"s":"p","x":18.3,"y":-1.602},{"s":"p","x":24.3,"y":-1.684},{"s":"p","x":30.4,"y":-1.755},{"s":"p","x":36.5,"y":-1.777},{"s":"p","x":42.6,"y":-1.739},{"s":"p","x":48.7,"y":-1.7},{"s":"p","x":54.8,"y":-1.629},{"s":"p","x":60.9,"y":-1.537},{"s":"p","x":66.9,"y":-1.411},{"s":"p","x":73,"y":-1.247},{"s":"p","x":79.1,"y":-1.056},{"s":"p","x":85.2,"y":-0.947},{"s":"p","x":91.3,"y":-0.838},{"s":"p","x":100,"y":-0.674},
{"s":"r","x":0,"y":-1.318},{"s":"r","x":6.1,"y":-1.438},{"s":"r","x":12.2,"y":-1.548},{"s":"r","x":18.3,"y":-1.657},{"s":"r","x":24.3,"y":-1.739},{"s":"r","x":30.4,"y":-1.793},{"s":"r","x":36.5,"y":-1.81},{"s":"r","x":42.6,"y":-1.766},{"s":"r","x":48.7,"y":-1.722},{"s":"r","x":54.8,"y":-1.629},{"s":"r","x":60.9,"y":-1.52},{"s":"r","x":66.9,"y":-1.384},{"s":"r","x":73,"y":-1.22},{"s":"r","x":79.1,"y":-1.002},{"s":"r","x":85.2,"y":-0.838},{"s":"r","x":91.3,"y":-0.674},{"s":"r","x":100,"y":-0.401}],
"y3M":[
{"s":"k","x":0,"y":-1.766},{"s":"k","x":4.3,"y":-1.438},{"s":"k","x":10.1,"y":-1.056},{"s":"k","x":15.9,"y":-0.81},{"s":"k","x":24.6,"y":-0.565},{"s":"k","x":33.3,"y":-0.374},{"s":"k","x":42,"y":-0.264},{"s":"k","x":47.8,"y":-0.237},{"s":"k","x":53.6,"y":-0.21},{"s":"k","x":62.3,"y":-0.226},{"s":"k","x":71,"y":-0.319},{"s":"k","x":79.7,"y":-0.51},{"s":"k","x":88.4,"y":-0.756},{"s":"k","x":94.2,"y":-1.002},{"s":"k","x":100,"y":-1.138},
{"s":"b","x":0,"y":-1.657},{"s":"b","x":4.3,"y":-1.548},{"s":"b","x":10.1,"y":-1.411},{"s":"b","x":15.9,"y":-1.274},{"s":"b","x":24.6,"y":-1.11},{"s":"b","x":33.3,"y":-0.974},{"s":"b","x":42,"y":-0.892},{"s":"b","x":47.8,"y":-0.849},{"s":"b","x":53.6,"y":-0.838},{"s":"b","x":62.3,"y":-0.849},{"s":"b","x":71,"y":-0.892},{"s":"b","x":79.7,"y":-1.002},{"s":"b","x":88.4,"y":-1.165},{"s":"b","x":94.2,"y":-1.247},{"s":"b","x":100,"y":-1.329},
{"s":"p","x":0,"y":-1.629},{"s":"p","x":4.3,"y":-1.356},{"s":"p","x":10.1,"y":-1.11},{"s":"p","x":15.9,"y":-0.892},{"s":"p","x":24.6,"y":-0.647},{"s":"p","x":33.3,"y":-0.483},{"s":"p","x":42,"y":-0.401},{"s":"p","x":47.8,"y":-0.374},{"s":"p","x":53.6,"y":-0.357},{"s":"p","x":62.3,"y":-0.346},{"s":"p","x":71,"y":-0.412},{"s":"p","x":79.7,"y":-0.51},{"s":"p","x":88.4,"y":-0.647},{"s":"p","x":94.2,"y":-0.756},{"s":"p","x":100,"y":-0.919},
{"s":"r","x":0,"y":-1.548},{"s":"r","x":4.3,"y":-1.165},{"s":"r","x":10.1,"y":-0.729},{"s":"r","x":15.9,"y":-0.401},{"s":"r","x":24.6,"y":-0.101},{"s":"r","x":33.3,"y":0.091},{"s":"r","x":42,"y":0.2},{"s":"r","x":47.8,"y":0.227},{"s":"r","x":53.6,"y":0.254},{"s":"r","x":62.3,"y":0.243},{"s":"r","x":71,"y":0.227},{"s":"r","x":79.7,"y":0.036},{"s":"r","x":88.4,"y":-0.21},{"s":"r","x":94.2,"y":-0.401},{"s":"r","x":100,"y":-0.647}],
"y3R":[
{"s":"k","x":0,"y":-0.62},{"s":"k","x":6.1,"y":-0.701},{"s":"k","x":12.2,"y":-0.783},{"s":"k","x":18.4,"y":-0.865},{"s":"k","x":24.5,"y":-0.947},{"s":"k","x":30.6,"y":-1.029},{"s":"k","x":36.7,"y":-1.1},{"s":"k","x":42.9,"y":-1.165},{"s":"k","x":49,"y":-1.231},{"s":"k","x":55.1,"y":-1.285},{"s":"k","x":61.2,"y":-1.318},{"s":"k","x":65.3,"y":-1.302},{"s":"k","x":71.4,"y":-1.247},{"s":"k","x":77.6,"y":-1.165},{"s":"k","x":83.7,"y":-1.083},{"s":"k","x":89.8,"y":-0.974},{"s":"k","x":95.9,"y":-0.892},{"s":"k","x":100,"y":-0.81},
{"s":"b","x":0,"y":-0.947},{"s":"b","x":6.1,"y":-1.029},{"s":"b","x":12.2,"y":-1.1},{"s":"b","x":18.4,"y":-1.165},{"s":"b","x":24.5,"y":-1.22},{"s":"b","x":30.6,"y":-1.285},{"s":"b","x":36.7,"y":-1.329},{"s":"b","x":42.9,"y":-1.356},{"s":"b","x":49,"y":-1.373},{"s":"b","x":55.1,"y":-1.356},{"s":"b","x":61.2,"y":-1.356},{"s":"b","x":65.3,"y":-1.318},{"s":"b","x":71.4,"y":-1.22},{"s":"b","x":77.6,"y":-1.138},{"s":"b","x":83.7,"y":-1.056},{"s":"b","x":89.8,"y":-0.974},{"s":"b","x":95.9,"y":-0.892},{"s":"b","x":100,"y":-0.81},
{"s":"p","x":0,"y":-0.592},{"s":"p","x":6.1,"y":-0.63},{"s":"p","x":12.2,"y":-0.647},{"s":"p","x":18.4,"y":-0.685},{"s":"p","x":24.5,"y":-0.729},{"s":"p","x":30.6,"y":-0.783},{"s":"p","x":36.7,"y":-0.838},{"s":"p","x":42.9,"y":-0.892},{"s":"p","x":49,"y":-0.958},{"s":"p","x":55.1,"y":-1.045},{"s":"p","x":61.2,"y":-1.122},{"s":"p","x":65.3,"y":-1.165},{"s":"p","x":71.4,"y":-1.138},{"s":"p","x":77.6,"y":-1.11},{"s":"p","x":83.7,"y":-1.056},{"s":"p","x":89.8,"y":-0.974},{"s":"p","x":95.9,"y":-0.865},{"s":"p","x":100,"y":-0.756},
{"s":"r","x":0,"y":-0.155},{"s":"r","x":6.1,"y":-0.193},{"s":"r","x":12.2,"y":-0.264},{"s":"r","x":18.4,"y":-0.335},{"s":"r","x":24.5,"y":-0.401},{"s":"r","x":30.6,"y":-0.483},{"s":"r","x":36.7,"y":-0.565},{"s":"r","x":42.9,"y":-0.647},{"s":"r","x":49,"y":-0.701},{"s":"r","x":55.1,"y":-0.772},{"s":"r","x":61.2,"y":-0.892},{"s":"r","x":65.3,"y":-1.002},{"s":"r","x":71.4,"y":-0.991},{"s":"r","x":77.6,"y":-0.947},{"s":"r","x":83.7,"y":-0.92},{"s":"r","x":89.8,"y":-0.865},{"s":"r","x":95.9,"y":-0.783},{"s":"r","x":100,"y":-0.685}],
"y4L":[
{"s":"k","x":0,"y":-0.93},{"s":"k","x":6.1,"y":-1.095},{"s":"k","x":12.3,"y":-1.26},{"s":"k","x":18.4,"y":-1.398},{"s":"k","x":24.6,"y":-1.508},{"s":"k","x":30.7,"y":-1.618},{"s":"k","x":36.9,"y":-1.673},{"s":"k","x":43,"y":-1.7},{"s":"k","x":49.2,"y":-1.645},{"s":"k","x":55.3,"y":-1.508},{"s":"k","x":61.5,"y":-1.343},{"s":"k","x":67.6,"y":-1.178},{"s":"k","x":73.8,"y":-1.013},{"s":"k","x":79.9,"y":-0.875},{"s":"k","x":86.1,"y":-0.765},{"s":"k","x":92.2,"y":-0.672},{"s":"k","x":100,"y":-0.545},
{"s":"b","x":0,"y":-0.71},{"s":"b","x":6.1,"y":-0.848},{"s":"b","x":12.3,"y":-0.958},{"s":"b","x":18.4,"y":-1.068},{"s":"b","x":24.6,"y":-1.222},{"s":"b","x":30.7,"y":-1.315},{"s":"b","x":36.9,"y":-1.453},{"s":"b","x":43,"y":-1.59},{"s":"b","x":49.2,"y":-1.618},{"s":"b","x":55.3,"y":-1.59},{"s":"b","x":61.5,"y":-1.453},{"s":"b","x":67.6,"y":-1.343},{"s":"b","x":73.8,"y":-1.205},{"s":"b","x":79.9,"y":-1.095},{"s":"b","x":86.1,"y":-1.04},{"s":"b","x":92.2,"y":-0.985},{"s":"b","x":100,"y":-0.903},
{"s":"p","x":0,"y":-1.343},{"s":"p","x":6.1,"y":-1.453},{"s":"p","x":12.3,"y":-1.618},{"s":"p","x":18.4,"y":-1.739},{"s":"p","x":24.6,"y":-1.794},{"s":"p","x":30.7,"y":-1.838},{"s":"p","x":36.9,"y":-1.893},{"s":"p","x":41,"y":-1.904},{"s":"p","x":47.1,"y":-1.827},{"s":"p","x":53.3,"y":-1.717},{"s":"p","x":59.4,"y":-1.563},{"s":"p","x":65.6,"y":-1.398},{"s":"p","x":71.7,"y":-1.233},{"s":"p","x":77.9,"y":-1.095},{"s":"p","x":84,"y":-0.985},{"s":"p","x":90.2,"y":-0.875},{"s":"p","x":100,"y":-0.765},
{"s":"r","x":0,"y":-1.343},{"s":"r","x":6.1,"y":-1.48},{"s":"r","x":12.3,"y":-1.59},{"s":"r","x":18.4,"y":-1.717},{"s":"r","x":24.6,"y":-1.739},{"s":"r","x":30.7,"y":-1.783},{"s":"r","x":35.9,"y":-1.838},{"s":"r","x":41,"y":-1.81},{"s":"r","x":47.1,"y":-1.728},{"s":"r","x":53.3,"y":-1.453},{"s":"r","x":59.4,"y":-1.288},{"s":"r","x":65.6,"y":-1.095},{"s":"r","x":71.7,"y":-0.875},{"s":"r","x":77.9,"y":-0.765},{"s":"r","x":84,"y":-0.628},{"s":"r","x":90.2,"y":-0.49},{"s":"r","x":100,"y":-0.215}],
"y4M":[
{"s":"k","x":0,"y":-1.453},{"s":"k","x":3.7,"y":-1.095},{"s":"k","x":9.5,"y":-0.738},{"s":"k","x":18.1,"y":-0.463},{"s":"k","x":26.7,"y":-0.27},{"s":"k","x":35.3,"y":-0.188},{"s":"k","x":41.1,"y":-0.144},{"s":"k","x":49.7,"y":-0.133},{"s":"k","x":58.3,"y":-0.16},{"s":"k","x":67,"y":-0.27},{"s":"k","x":75.6,"y":-0.463},{"s":"k","x":84.2,"y":-0.655},{"s":"k","x":92.8,"y":-0.875},{"s":"k","x":100,"y":-1.068},
{"s":"b","x":0,"y":-1.508},{"s":"b","x":3.7,"y":-1.37},{"s":"b","x":9.5,"y":-1.233},{"s":"b","x":18.1,"y":-1.057},{"s":"b","x":26.7,"y":-0.903},{"s":"b","x":35.3,"y":-0.793},{"s":"b","x":41.1,"y":-0.738},{"s":"b","x":49.7,"y":-0.71},{"s":"b","x":58.3,"y":-0.727},{"s":"b","x":67,"y":-0.793},{"s":"b","x":75.6,"y":-0.875},{"s":"b","x":84.2,"y":-0.985},{"s":"b","x":92.8,"y":-1.123},{"s":"b","x":100,"y":-1.26},
{"s":"p","x":0,"y":-1.563},{"s":"p","x":3.7,"y":-1.398},{"s":"p","x":9.5,"y":-1.178},{"s":"p","x":18.1,"y":-0.958},{"s":"p","x":26.7,"y":-0.793},{"s":"p","x":35.3,"y":-0.694},{"s":"p","x":41.1,"y":-0.639},{"s":"p","x":49.7,"y":-0.617},{"s":"p","x":58.3,"y":-0.628},{"s":"p","x":67,"y":-0.694},{"s":"p","x":75.6,"y":-0.793},{"s":"p","x":84.2,"y":-0.875},{"s":"p","x":92.8,"y":-1.013},{"s":"p","x":100,"y":-1.15},
{"s":"r","x":0,"y":-1.37},{"s":"r","x":3.7,"y":-0.848},{"s":"r","x":9.5,"y":-0.518},{"s":"r","x":18.1,"y":-0.27},{"s":"r","x":26.7,"y":-0.105},{"s":"r","x":35.3,"y":0.005},{"s":"r","x":41.1,"y":0.044},{"s":"r","x":49.7,"y":0.033},{"s":"r","x":58.3,"y":0.005},{"s":"r","x":67,"y":-0.105},{"s":"r","x":75.6,"y":-0.27},{"s":"r","x":84.2,"y":-0.463},{"s":"r","x":92.8,"y":-0.683},{"s":"r","x":100,"y":-0.958}],
"y4R":[
{"s":"k","x":0,"y":-0.628},{"s":"k","x":6.1,"y":-0.694},{"s":"k","x":12.2,"y":-0.765},{"s":"k","x":18.4,"y":-0.848},{"s":"k","x":24.5,"y":-0.914},{"s":"k","x":30.6,"y":-0.985},{"s":"k","x":36.7,"y":-1.057},{"s":"k","x":42.9,"y":-1.123},{"s":"k","x":49,"y":-1.189},{"s":"k","x":55.1,"y":-1.26},{"s":"k","x":61.2,"y":-1.315},{"s":"k","x":67.3,"y":-1.244},{"s":"k","x":73.5,"y":-1.15},{"s":"k","x":79.6,"y":-1.068},{"s":"k","x":85.7,"y":-0.969},{"s":"k","x":91.8,"y":-0.875},{"s":"k","x":100,"y":-0.738},
{"s":"b","x":0,"y":-0.804},{"s":"b","x":6.1,"y":-0.914},{"s":"b","x":12.2,"y":-1.013},{"s":"b","x":18.4,"y":-1.095},{"s":"b","x":24.5,"y":-1.167},{"s":"b","x":30.6,"y":-1.222},{"s":"b","x":36.7,"y":-1.26},{"s":"b","x":42.9,"y":-1.277},{"s":"b","x":49,"y":-1.288},{"s":"b","x":55.1,"y":-1.315},{"s":"b","x":61.2,"y":-1.315},{"s":"b","x":67.3,"y":-1.205},{"s":"b","x":73.5,"y":-1.068},{"s":"b","x":79.6,"y":-0.947},{"s":"b","x":85.7,"y":-0.848},{"s":"b","x":91.8,"y":-0.765},{"s":"b","x":100,"y":-0.655},
{"s":"p","x":0,"y":-0.793},{"s":"p","x":6.1,"y":-0.82},{"s":"p","x":12.2,"y":-0.875},{"s":"p","x":18.4,"y":-0.947},{"s":"p","x":24.5,"y":-1.013},{"s":"p","x":30.6,"y":-1.068},{"s":"p","x":36.7,"y":-1.112},{"s":"p","x":42.9,"y":-1.15},{"s":"p","x":49,"y":-1.189},{"s":"p","x":55.1,"y":-1.233},{"s":"p","x":61.2,"y":-1.315},{"s":"p","x":65.3,"y":-1.398},{"s":"p","x":69.4,"y":-1.343},{"s":"p","x":73.5,"y":-1.26},{"s":"p","x":79.6,"y":-1.222},{"s":"p","x":85.7,"y":-1.15},{"s":"p","x":91.8,"y":-1.068},{"s":"p","x":100,"y":-0.848},
{"s":"r","x":0,"y":-0.49},{"s":"r","x":6.1,"y":-0.545},{"s":"r","x":12.2,"y":-0.639},{"s":"r","x":18.4,"y":-0.738},{"s":"r","x":24.5,"y":-0.793},{"s":"r","x":30.6,"y":-0.848},{"s":"r","x":36.7,"y":-0.93},{"s":"r","x":42.9,"y":-0.985},{"s":"r","x":49,"y":-1.068},{"s":"r","x":55.1,"y":-1.15},{"s":"r","x":61.2,"y":-1.167},{"s":"r","x":67.3,"y":-1.123},{"s":"r","x":73.5,"y":-1.057},{"s":"r","x":79.6,"y":-0.985},{"s":"r","x":85.7,"y":-0.93},{"s":"r","x":91.8,"y":-0.837},{"s":"r","x":100,"y":-0.655}]
},
"columns":7,
"spacing":{"row":74,"column":8},
"bounds":"flush",
"align":"each",
"concat":[
 {"title":{"text":"HeLa"},"width":190,"height":152,"data":{"name":"h1L"},"layer":[
  {"mark":{"type":"line","interpolate":"monotone"},"encoding":{"x":{"field":"x","type":"quantitative","title":null,"scale":{"domain":[0,100],"nice":false},"axis":{"values":[14.5,57.3],"labelExpr":"datum.value < 30 ? '-300' : 'sTSS'"}},"y":{"field":"y","type":"quantitative","title":null,"scale":{"domain":[0,85],"nice":false},"axis":{"values":[0,50]}},"color":{"field":"s","type":"nominal","legend":null,"scale":{"domain":["k","b","p","r"],"range":["#ff9ef6","#2b6fe6","#a14aab","#e61f0f"]}}}},
  {"data":{"values":[{"t":"H3K9ac"}]},"mark":{"type":"text","align":"left","baseline":"alphabetic"},"encoding":{"x":{"datum":9.5},"y":{"datum":64.9},"text":{"field":"t"}}}]},
 {"width":133,"height":152,"data":{"name":"h1M"},"mark":{"type":"line","interpolate":"monotone"},"encoding":{"x":{"field":"x","type":"quantitative","title":null,"scale":{"domain":[0,100],"nice":false},"axis":{"values":[0,100],"labelExpr":"datum.value < 50 ? 'sTSS' : 'asTSS'"}},"y":{"field":"y","type":"quantitative","scale":{"domain":[0,85],"nice":false},"axis":null},"color":{"field":"s","type":"nominal","legend":null,"scale":{"domain":["k","b","p","r"],"range":["#ff9ef6","#2b6fe6","#a14aab","#e61f0f"]}}}},
 {"width":190,"height":152,"data":{"name":"h1R"},"mark":{"type":"line","interpolate":"monotone"},"encoding":{"x":{"field":"x","type":"quantitative","title":null,"scale":{"domain":[0,100],"nice":false},"axis":{"values":[44.4,86.9],"labelExpr":"datum.value < 60 ? 'asTSS' : '+300'"}},"y":{"field":"y","type":"quantitative","scale":{"domain":[0,85],"nice":false},"axis":null},"color":{"field":"s","type":"nominal","legend":null,"scale":{"domain":["k","b","p","r"],"range":["#ff9ef6","#2b6fe6","#a14aab","#e61f0f"]}}}},
 {"width":77,"height":152,"view":{"stroke":null},"data":{"values":[]},"mark":"point","encoding":{}},
 {"title":{"text":"S. cerevisiae","fontStyle":"italic"},"width":190,"height":152,"data":{"name":"y1L"},"mark":{"type":"line"},"encoding":{"x":{"field":"x","type":"quantitative","title":null,"scale":{"domain":[0,100],"nice":false},"axis":{"values":[14.5,57.3],"labelExpr":"datum.value < 30 ? '-300' : 'sTSS'"}},"y":{"field":"y","type":"quantitative","title":null,"scale":{"domain":[0,1.1],"nice":false},"axis":{"values":[0,0.5,1]}},"color":{"field":"s","type":"nominal","legend":null,"scale":{"domain":["k","b","p","r"],"range":["#ff9ef6","#2b6fe6","#a14aab","#e61f0f"]}}}},
 {"width":133,"height":152,"data":{"name":"y1M"},"mark":{"type":"line"},"encoding":{"x":{"field":"x","type":"quantitative","title":null,"scale":{"domain":[0,100],"nice":false},"axis":{"values":[0,100],"labelExpr":"datum.value < 50 ? 'sTSS' : 'asTSS'"}},"y":{"field":"y","type":"quantitative","scale":{"domain":[0,1.1],"nice":false},"axis":null},"color":{"field":"s","type":"nominal","legend":null,"scale":{"domain":["k","b","p","r"],"range":["#ff9ef6","#2b6fe6","#a14aab","#e61f0f"]}}}},
 {"width":190,"height":152,"data":{"name":"y1R"},"layer":[
  {"mark":{"type":"line"},"encoding":{"x":{"field":"x","type":"quantitative","title":null,"scale":{"domain":[0,100],"nice":false},"axis":{"values":[44.4,86.9],"labelExpr":"datum.value < 60 ? 'asTSS' : '+300'"}},"y":{"field":"y","type":"quantitative","scale":{"domain":[0,1.1],"nice":false},"axis":null},"color":{"field":"s","type":"nominal","legend":null,"scale":{"domain":["k","b","p","r"],"range":["#ff9ef6","#2b6fe6","#a14aab","#e61f0f"]}}}},
  {"data":{"values":[{"t":"H3K9ac"}]},"mark":{"type":"text","align":"right","baseline":"alphabetic"},"encoding":{"x":{"datum":94.7},"y":{"datum":0.861},"text":{"field":"t"}}}]},

 {"width":190,"height":152,"data":{"name":"h2L"},"layer":[
  {"mark":{"type":"line","interpolate":"monotone"},"encoding":{"x":{"field":"x","type":"quantitative","title":null,"scale":{"domain":[0,100],"nice":false},"axis":{"values":[14.5,57.3],"labelExpr":"datum.value < 30 ? '-300' : 'sTSS'"}},"y":{"field":"y","type":"quantitative","title":null,"scale":{"domain":[0,350],"nice":false},"axis":{"values":[0,200]}},"color":{"field":"s","type":"nominal","legend":null,"scale":{"domain":["k","b","p","r"],"range":["#ff9ef6","#2b6fe6","#a14aab","#e61f0f"]}}}},
  {"data":{"values":[{"t":"H3K27ac"}]},"mark":{"type":"text","align":"left","baseline":"alphabetic"},"encoding":{"x":{"datum":9.5},"y":{"datum":267},"text":{"field":"t"}}}]},
 {"width":133,"height":152,"data":{"name":"h2M"},"mark":{"type":"line","interpolate":"monotone"},"encoding":{"x":{"field":"x","type":"quantitative","title":null,"scale":{"domain":[0,100],"nice":false},"axis":{"values":[0,100],"labelExpr":"datum.value < 50 ? 'sTSS' : 'asTSS'"}},"y":{"field":"y","type":"quantitative","scale":{"domain":[0,350],"nice":false},"axis":null},"color":{"field":"s","type":"nominal","legend":null,"scale":{"domain":["k","b","p","r"],"range":["#ff9ef6","#2b6fe6","#a14aab","#e61f0f"]}}}},
 {"width":190,"height":152,"data":{"name":"h2R"},"mark":{"type":"line","interpolate":"monotone"},"encoding":{"x":{"field":"x","type":"quantitative","title":null,"scale":{"domain":[0,100],"nice":false},"axis":{"values":[44.4,86.9],"labelExpr":"datum.value < 60 ? 'asTSS' : '+300'"}},"y":{"field":"y","type":"quantitative","scale":{"domain":[0,350],"nice":false},"axis":null},"color":{"field":"s","type":"nominal","legend":null,"scale":{"domain":["k","b","p","r"],"range":["#ff9ef6","#2b6fe6","#a14aab","#e61f0f"]}}}},
 {"width":77,"height":152,"view":{"stroke":null},"data":{"values":[]},"mark":"point","encoding":{}},
 {"width":190,"height":152,"data":{"name":"y2L"},"mark":{"type":"line"},"encoding":{"x":{"field":"x","type":"quantitative","title":null,"scale":{"domain":[0,100],"nice":false},"axis":{"values":[14.5,57.3],"labelExpr":"datum.value < 30 ? '-300' : 'sTSS'"}},"y":{"field":"y","type":"quantitative","title":null,"scale":{"domain":[-0.1,0.5],"nice":false},"axis":{"values":[0,0.2,0.4]}},"color":{"field":"s","type":"nominal","legend":null,"scale":{"domain":["k","b","p","r"],"range":["#ff9ef6","#2b6fe6","#a14aab","#e61f0f"]}}}},
 {"width":133,"height":152,"data":{"name":"y2M"},"mark":{"type":"line"},"encoding":{"x":{"field":"x","type":"quantitative","title":null,"scale":{"domain":[0,100],"nice":false},"axis":{"values":[0,100],"labelExpr":"datum.value < 50 ? 'sTSS' : 'asTSS'"}},"y":{"field":"y","type":"quantitative","scale":{"domain":[-0.1,0.5],"nice":false},"axis":null},"color":{"field":"s","type":"nominal","legend":null,"scale":{"domain":["k","b","p","r"],"range":["#ff9ef6","#2b6fe6","#a14aab","#e61f0f"]}}}},
 {"width":190,"height":152,"data":{"name":"y2R"},"layer":[
  {"mark":{"type":"line"},"encoding":{"x":{"field":"x","type":"quantitative","title":null,"scale":{"domain":[0,100],"nice":false},"axis":{"values":[44.4,86.9],"labelExpr":"datum.value < 60 ? 'asTSS' : '+300'"}},"y":{"field":"y","type":"quantitative","scale":{"domain":[-0.1,0.5],"nice":false},"axis":null},"color":{"field":"s","type":"nominal","legend":null,"scale":{"domain":["k","b","p","r"],"range":["#ff9ef6","#2b6fe6","#a14aab","#e61f0f"]}}}},
  {"data":{"values":[{"t":"H3K27ac"}]},"mark":{"type":"text","align":"right","baseline":"alphabetic"},"encoding":{"x":{"datum":94.7},"y":{"datum":0.37},"text":{"field":"t"}}}]},

 {"width":190,"height":152,"data":{"name":"h3L"},"layer":[
  {"mark":{"type":"line","interpolate":"monotone"},"encoding":{"x":{"field":"x","type":"quantitative","title":null,"scale":{"domain":[0,100],"nice":false},"axis":{"values":[14.5,57.3],"labelExpr":"datum.value < 30 ? '-300' : 'sTSS'"}},"y":{"field":"y","type":"quantitative","title":null,"scale":{"domain":[0,1],"nice":false},"axis":{"values":[0,0.5,1]}},"color":{"field":"s","type":"nominal","legend":null,"scale":{"domain":["k","b","p","r"],"range":["#ff9ef6","#2b6fe6","#a14aab","#e61f0f"]}}}},
  {"data":{"values":[{"t":"H3K36me3"}]},"mark":{"type":"text","align":"left","baseline":"alphabetic"},"encoding":{"x":{"datum":9.5},"y":{"datum":0.763},"text":{"field":"t"}}}]},
 {"width":133,"height":152,"data":{"name":"h3M"},"mark":{"type":"line","interpolate":"monotone"},"encoding":{"x":{"field":"x","type":"quantitative","title":null,"scale":{"domain":[0,100],"nice":false},"axis":{"values":[0,100],"labelExpr":"datum.value < 50 ? 'sTSS' : 'asTSS'"}},"y":{"field":"y","type":"quantitative","scale":{"domain":[0,1],"nice":false},"axis":null},"color":{"field":"s","type":"nominal","legend":null,"scale":{"domain":["k","b","p","r"],"range":["#ff9ef6","#2b6fe6","#a14aab","#e61f0f"]}}}},
 {"width":190,"height":152,"data":{"name":"h3R"},"mark":{"type":"line","interpolate":"monotone"},"encoding":{"x":{"field":"x","type":"quantitative","title":null,"scale":{"domain":[0,100],"nice":false},"axis":{"values":[44.4,86.9],"labelExpr":"datum.value < 60 ? 'asTSS' : '+300'"}},"y":{"field":"y","type":"quantitative","scale":{"domain":[0,1],"nice":false},"axis":null},"color":{"field":"s","type":"nominal","legend":null,"scale":{"domain":["k","b","p","r"],"range":["#ff9ef6","#2b6fe6","#a14aab","#e61f0f"]}}}},
 {"width":77,"height":152,"view":{"stroke":null},"data":{"values":[]},"mark":"point","encoding":{}},
 {"width":190,"height":152,"data":{"name":"y3L"},"mark":{"type":"line"},"encoding":{"x":{"field":"x","type":"quantitative","title":null,"scale":{"domain":[0,100],"nice":false},"axis":{"values":[14.5,57.3],"labelExpr":"datum.value < 30 ? '-300' : 'sTSS'"}},"y":{"field":"y","type":"quantitative","title":null,"scale":{"domain":[-2,0.5],"nice":false},"axis":{"values":[-2,-1,0]}},"color":{"field":"s","type":"nominal","legend":null,"scale":{"domain":["k","b","p","r"],"range":["#ff9ef6","#2b6fe6","#a14aab","#e61f0f"]}}}},
 {"width":133,"height":152,"data":{"name":"y3M"},"mark":{"type":"line"},"encoding":{"x":{"field":"x","type":"quantitative","title":null,"scale":{"domain":[0,100],"nice":false},"axis":{"values":[0,100],"labelExpr":"datum.value < 50 ? 'sTSS' : 'asTSS'"}},"y":{"field":"y","type":"quantitative","scale":{"domain":[-2,0.5],"nice":false},"axis":null},"color":{"field":"s","type":"nominal","legend":null,"scale":{"domain":["k","b","p","r"],"range":["#ff9ef6","#2b6fe6","#a14aab","#e61f0f"]}}}},
 {"width":190,"height":152,"data":{"name":"y3R"},"layer":[
  {"mark":{"type":"line"},"encoding":{"x":{"field":"x","type":"quantitative","title":null,"scale":{"domain":[0,100],"nice":false},"axis":{"values":[44.4,86.9],"labelExpr":"datum.value < 60 ? 'asTSS' : '+300'"}},"y":{"field":"y","type":"quantitative","scale":{"domain":[-2,0.5],"nice":false},"axis":null},"color":{"field":"s","type":"nominal","legend":null,"scale":{"domain":["k","b","p","r"],"range":["#ff9ef6","#2b6fe6","#a14aab","#e61f0f"]}}}},
  {"data":{"values":[{"t":"H3K36me3"}]},"mark":{"type":"text","align":"right","baseline":"alphabetic"},"encoding":{"x":{"datum":94.7},"y":{"datum":-0.043},"text":{"field":"t"}}}]},

 {"width":190,"height":152,"data":{"name":"h4L"},"layer":[
  {"mark":{"type":"line","interpolate":"monotone"},"encoding":{"x":{"field":"x","type":"quantitative","title":null,"scale":{"domain":[0,100],"nice":false},"axis":{"values":[14.5,57.3],"labelExpr":"datum.value < 30 ? '-300' : 'sTSS'"}},"y":{"field":"y","type":"quantitative","title":null,"scale":{"domain":[0,50],"nice":false},"axis":{"values":[0,50]}},"color":{"field":"s","type":"nominal","legend":null,"scale":{"domain":["k","b","p","r"],"range":["#ff9ef6","#2b6fe6","#a14aab","#e61f0f"]}}}},
  {"data":{"values":[{"t":"H3K79me3"}]},"mark":{"type":"text","align":"left","baseline":"alphabetic"},"encoding":{"x":{"datum":9.5},"y":{"datum":38.2},"text":{"field":"t"}}}]},
 {"width":133,"height":152,"data":{"name":"h4M"},"mark":{"type":"line","interpolate":"monotone"},"encoding":{"x":{"field":"x","type":"quantitative","title":null,"scale":{"domain":[0,100],"nice":false},"axis":{"values":[0,100],"labelExpr":"datum.value < 50 ? 'sTSS' : 'asTSS'"}},"y":{"field":"y","type":"quantitative","scale":{"domain":[0,50],"nice":false},"axis":null},"color":{"field":"s","type":"nominal","legend":null,"scale":{"domain":["k","b","p","r"],"range":["#ff9ef6","#2b6fe6","#a14aab","#e61f0f"]}}}},
 {"width":190,"height":152,"data":{"name":"h4R"},"mark":{"type":"line","interpolate":"monotone"},"encoding":{"x":{"field":"x","type":"quantitative","title":null,"scale":{"domain":[0,100],"nice":false},"axis":{"values":[44.4,86.9],"labelExpr":"datum.value < 60 ? 'asTSS' : '+300'"}},"y":{"field":"y","type":"quantitative","scale":{"domain":[0,50],"nice":false},"axis":null},"color":{"field":"s","type":"nominal","legend":null,"scale":{"domain":["k","b","p","r"],"range":["#ff9ef6","#2b6fe6","#a14aab","#e61f0f"]}}}},
 {"width":77,"height":152,"view":{"stroke":null},"data":{"values":[]},"mark":"point","encoding":{}},
 {"width":190,"height":152,"data":{"name":"y4L"},"mark":{"type":"line"},"encoding":{"x":{"field":"x","type":"quantitative","title":null,"scale":{"domain":[0,100],"nice":false},"axis":{"values":[14.5,57.3],"labelExpr":"datum.value < 30 ? '-300' : 'sTSS'"}},"y":{"field":"y","type":"quantitative","title":null,"scale":{"domain":[-2,0.5],"nice":false},"axis":{"values":[-2,-1,0]}},"color":{"field":"s","type":"nominal","legend":null,"scale":{"domain":["k","b","p","r"],"range":["#ff9ef6","#2b6fe6","#a14aab","#e61f0f"]}}}},
 {"width":133,"height":152,"data":{"name":"y4M"},"mark":{"type":"line"},"encoding":{"x":{"field":"x","type":"quantitative","title":null,"scale":{"domain":[0,100],"nice":false},"axis":{"values":[0,100],"labelExpr":"datum.value < 50 ? 'sTSS' : 'asTSS'"}},"y":{"field":"y","type":"quantitative","scale":{"domain":[-2,0.5],"nice":false},"axis":null},"color":{"field":"s","type":"nominal","legend":null,"scale":{"domain":["k","b","p","r"],"range":["#ff9ef6","#2b6fe6","#a14aab","#e61f0f"]}}}},
 {"width":190,"height":152,"data":{"name":"y4R"},"layer":[
  {"mark":{"type":"line"},"encoding":{"x":{"field":"x","type":"quantitative","title":null,"scale":{"domain":[0,100],"nice":false},"axis":{"values":[44.4,86.9],"labelExpr":"datum.value < 60 ? 'asTSS' : '+300'"}},"y":{"field":"y","type":"quantitative","scale":{"domain":[-2,0.5],"nice":false},"axis":null},"color":{"field":"s","type":"nominal","legend":null,"scale":{"domain":["k","b","p","r"],"range":["#ff9ef6","#2b6fe6","#a14aab","#e61f0f"]}}}},
  {"data":{"values":[{"t":"H3K79me3"}]},"mark":{"type":"text","align":"right","baseline":"alphabetic"},"encoding":{"x":{"datum":94.7},"y":{"datum":-0.043},"text":{"field":"t"}}}]}
]
}
